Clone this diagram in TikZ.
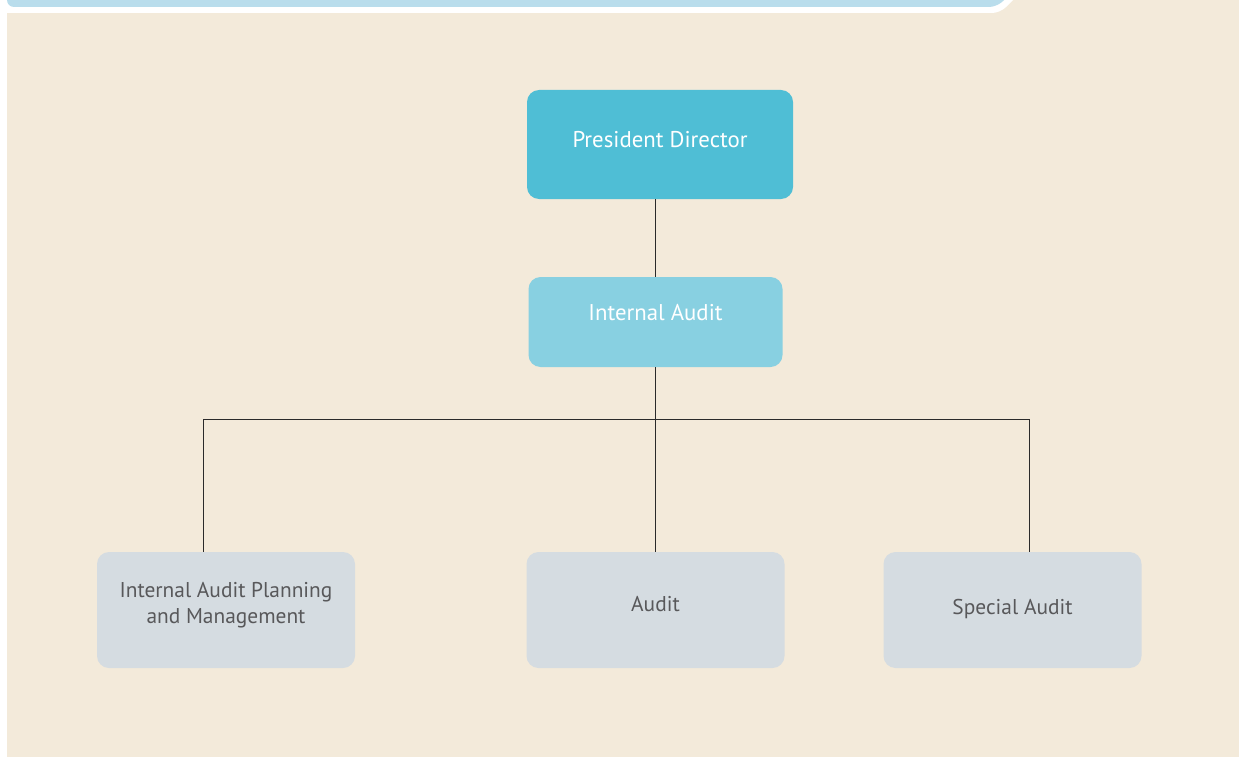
\documentclass[tikz,border=0pt]{standalone}
\usepackage{fontspec}
\setmainfont{PT Sans}
\usetikzlibrary{positioning}
\definecolor{bgbeige}{HTML}{F3EADA}
\definecolor{tabblue}{HTML}{B9DDEC}
\definecolor{topteal}{HTML}{4FBED5}
\definecolor{midteal}{HTML}{88D0E1}
\definecolor{unitgray}{HTML}{D5DCE1}
\definecolor{textgray}{HTML}{58585A}
\definecolor{linkline}{HTML}{2A2A2A}

\begin{document}
\begin{tikzpicture}[
    x=1pt, y=-1pt,
    box/.style={rounded corners=12pt, inner sep=0pt, align=center},
    head/.style={box, fill=topteal, text=white, font=\fontsize{22.8}{26}\selectfont},
    sub/.style={box, fill=midteal, text=white, font=\fontsize{22.8}{26}\selectfont},
    unit/.style={box, fill=unitgray, text=textgray, minimum width=258pt,
      minimum height=116pt, font=\fontsize{21.4}{26}\selectfont},
    link/.style={draw=linkline, line width=0.9pt},
]
  % page and top tab
  \useasboundingbox (0,0) rectangle (1239,757);
  \fill[white] (0,0) rectangle (1239,757);
  \fill[bgbeige] (7,0) rectangle (1239,757);
  \fill[white, rounded corners=8pt] (0,-10) -- (1023,-10) -- (1000,13) -- (0,13) -- cycle;
  \fill[tabblue, rounded corners=7pt] (7,-10) -- (1016,-10) -- (996,7) -- (7,7) -- cycle;

  \node[head, minimum width=266pt, minimum height=109pt, text depth=10pt] (pd) at (660,144.5) {President Director};
  \node[sub, minimum width=254pt, minimum height=90pt, text depth=20pt] (ia) at (655.5,322) {Internal Audit};
  \node[unit, text depth=14pt] (iapm) at (226,610) {Internal Audit Planning\\and Management};
  \node[unit, text depth=13pt] (aud) at (655.5,610) {Audit};
  \node[unit, text depth=7pt] (spa) at (1012.5,610) {Special Audit};

  \coordinate (lft) at (203,419);
  \coordinate (rgt) at (1029,419);
  \draw[link] (ia.north) -- (ia.north |- pd.south);
  \draw[link] (ia.south) -- (aud.north);
  \draw[link] (iapm.north -| lft) -- (lft) -- (rgt) -- (spa.north -| rgt);
\end{tikzpicture}
\end{document}
